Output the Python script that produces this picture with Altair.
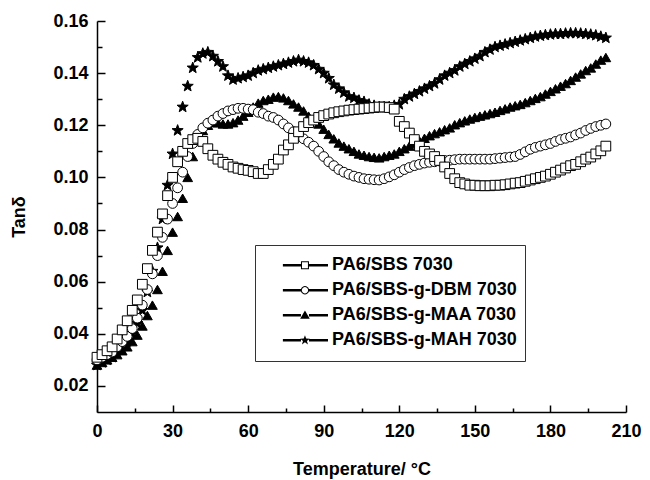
import math
import altair as alt
import pandas as pd

TEMP = list(range(0, 203, 2))  # sampling temperatures, °C

SERIES = ["PA6/SBS 7030", "PA6/SBS-g-DBM 7030", "PA6/SBS-g-MAA 7030", "PA6/SBS-g-MAH 7030"]

SBS = [0.031, 0.032, 0.0335, 0.035, 0.038, 0.0415, 0.045, 0.049, 0.053, 0.059,
       0.065, 0.072, 0.079, 0.086, 0.093, 0.100, 0.106, 0.110, 0.113, 0.1145,
       0.115, 0.1138, 0.111, 0.1085, 0.107, 0.1058, 0.105, 0.104, 0.1035, 0.103,
       0.1027, 0.1022, 0.1015, 0.1015, 0.103, 0.105, 0.107, 0.1105, 0.1125, 0.115,
       0.1175, 0.1195, 0.121, 0.122, 0.123, 0.1237, 0.1243, 0.1248, 0.1252, 0.1255,
       0.1258, 0.126, 0.1262, 0.1264, 0.1266, 0.1268, 0.127, 0.127, 0.1268, 0.1262,
       0.1215, 0.1195, 0.117, 0.1145, 0.112, 0.110, 0.109, 0.108, 0.1065, 0.104,
       0.1015, 0.0995, 0.098, 0.0975, 0.097, 0.097, 0.0968, 0.0968, 0.0968, 0.097,
       0.097, 0.0972, 0.0975, 0.0978, 0.098, 0.0985, 0.099, 0.0995, 0.100, 0.1005,
       0.1012, 0.102, 0.1028, 0.1036, 0.1045, 0.105, 0.106, 0.107, 0.1078, 0.109,
       0.1102, 0.112]

DBM = [0.030, 0.031, 0.032, 0.033, 0.035, 0.037, 0.039, 0.042, 0.046, 0.051,
       0.057, 0.063, 0.070, 0.077, 0.084, 0.090, 0.096, 0.102, 0.108, 0.113,
       0.1165, 0.119, 0.1208, 0.122, 0.1235, 0.1245, 0.1255, 0.126, 0.1265, 0.1265,
       0.1262, 0.126, 0.125, 0.1245, 0.1235, 0.123, 0.122, 0.1205, 0.119, 0.1175,
       0.116, 0.1148, 0.1135, 0.112, 0.110, 0.108, 0.106, 0.1045, 0.103, 0.102,
       0.1012, 0.1005, 0.100, 0.0995, 0.0993, 0.0991, 0.099, 0.0995, 0.1002, 0.101,
       0.102, 0.103, 0.1038, 0.1045, 0.105, 0.1055, 0.1058, 0.106, 0.1063, 0.1065,
       0.1066, 0.1068, 0.107, 0.107, 0.107, 0.107, 0.107, 0.107, 0.107, 0.1072,
       0.1074, 0.1076, 0.1078, 0.108, 0.1088, 0.1098, 0.1108, 0.1115, 0.112, 0.1125,
       0.113, 0.1138, 0.1145, 0.115, 0.1155, 0.1163, 0.117, 0.118, 0.1188, 0.1195,
       0.120, 0.1205]

MAA = [0.028, 0.029, 0.030, 0.031, 0.032, 0.0335, 0.035, 0.037, 0.0395, 0.043,
       0.047, 0.051, 0.057, 0.064, 0.072, 0.079, 0.085, 0.092, 0.100, 0.108,
       0.114, 0.118, 0.120, 0.121, 0.121, 0.1205, 0.1205, 0.121, 0.122, 0.1235,
       0.125, 0.127, 0.1285, 0.1295, 0.130, 0.1308, 0.131, 0.1305, 0.1295, 0.1282,
       0.127, 0.1255, 0.1235, 0.122, 0.1205, 0.1185, 0.1165, 0.1148, 0.1132, 0.112,
       0.111, 0.110, 0.109, 0.1085, 0.108, 0.1077, 0.1075, 0.108, 0.1085, 0.109,
       0.110, 0.111, 0.112, 0.113, 0.114, 0.115, 0.116, 0.1168, 0.1175, 0.1183,
       0.119, 0.1202, 0.121, 0.1217, 0.1224, 0.123, 0.1235, 0.124, 0.1245, 0.125,
       0.1257, 0.1263, 0.127, 0.1275, 0.128, 0.1287, 0.1295, 0.1303, 0.131, 0.132,
       0.133, 0.134, 0.135, 0.136, 0.1372, 0.1385, 0.1397, 0.141, 0.142, 0.1435,
       0.145, 0.146]

MAH = [0.028, 0.029, 0.030, 0.031, 0.0325, 0.034, 0.037, 0.040, 0.044, 0.049,
       0.056, 0.064, 0.073, 0.084, 0.097, 0.109, 0.118, 0.127, 0.135, 0.142,
       0.146, 0.1475, 0.148, 0.1465, 0.1445, 0.1425, 0.139, 0.1375, 0.138, 0.1385,
       0.139, 0.140, 0.141, 0.1415, 0.142, 0.1425, 0.143, 0.1435, 0.144, 0.1445,
       0.145, 0.1445, 0.144, 0.143, 0.1415, 0.140, 0.138, 0.1355, 0.134, 0.1325,
       0.131, 0.1305, 0.1295, 0.129, 0.128, 0.1275, 0.127, 0.127, 0.127, 0.1275,
       0.128, 0.130, 0.131, 0.132, 0.133, 0.134, 0.135, 0.136, 0.1375, 0.139,
       0.140, 0.141, 0.1425, 0.1435, 0.1445, 0.1455, 0.1465, 0.148, 0.149, 0.150,
       0.1505, 0.151, 0.1515, 0.152, 0.1525, 0.153, 0.1535, 0.154, 0.1543, 0.1546,
       0.1548, 0.155, 0.155, 0.1552, 0.1553, 0.1553, 0.1552, 0.155, 0.1548, 0.1545,
       0.154, 0.1535]

X_TICKS = [0, 30, 60, 90, 120, 150, 180, 210]
X_MINOR = [15, 45, 75, 105, 135, 165, 195]
Y_TICKS = [0.02, 0.04, 0.06, 0.08, 0.10, 0.12, 0.14, 0.16]
Y_MINOR = [0.03, 0.05, 0.07, 0.09, 0.11, 0.13, 0.15]

rows = []
for name, vals in [(SERIES[3], MAH), (SERIES[2], MAA), (SERIES[1], DBM), (SERIES[0], SBS)]:
    assert len(vals) == len(TEMP), name
    for t, v in zip(TEMP, vals):
        rows.append({"T": t, "v": v, "s": name})
df = pd.DataFrame(rows)

W, H = 529, 391
FONT = "Liberation Sans"

xscale = alt.Scale(domain=[0, 210], nice=False, zero=False)
yscale = alt.Scale(domain=[0.01, 0.16], nice=False, zero=False)
FILLS = ["white", "white", "black", "black"]
LEG_FILLS = ["black", "black", "black", "black"]


def f(v):
    return f"{v:.4f}"


def star_path(cx, R, r):
    pts = []
    for k in range(10):
        ang = -math.pi / 2 + k * math.pi / 5
        rr = R if k % 2 == 0 else r
        pts.append(f"{f(cx + rr*math.cos(ang))},{f(rr*math.sin(ang))}")
    return "M" + "L".join(pts) + "Z"


def ring(cx, r, n, reverse):
    pts = []
    for k in range(n):
        a = 2 * math.pi * k / n
        if reverse:
            a = -a
        pts.append(f"{f(cx + r*math.cos(a))},{f(r*math.sin(a))}")
    return "M" + "L".join(pts) + "Z"


STAR = star_path(0.0, 1.2, 0.5)

# legend symbols, drawn as filled outlines: thick line, marker in the middle (unit coords)
cx = 0.28
t = 0.04
line = f"M-0.41,{-t}H0.155V{t}H-0.41ZM0.405,{-t}H1V{t}H0.405Z"
o, i = 0.125, 0.093
sq = (f"M{f(cx-o)},{-o}H{f(cx+o)}V{o}H{f(cx-o)}Z"
      f"M{f(cx-i)},{-i}V{i}H{f(cx+i)}V{-i}Z")
circ = ring(cx, 0.13, 20, False) + ring(cx, 0.098, 20, True)
tri = f"M{f(cx)},-0.15L{f(cx+0.15)},0.11L{f(cx-0.15)},0.11Z"
LEG_PATHS = [line + sq, line + circ, line + tri, line + star_path(cx, 0.16, 0.065)]

base = alt.Chart(df)

main = base.mark_point(filled=True, opacity=1, stroke="black", strokeWidth=1, size=95).encode(
    x=alt.X("T:Q", scale=xscale,
            axis=alt.Axis(orient="bottom", values=X_TICKS, ticks=False, labelPadding=10,
                          title="Temperature/ °C", titlePadding=20, labelFlush=False)),
    y=alt.Y("v:Q", scale=yscale,
            axis=alt.Axis(orient="left", values=Y_TICKS, format=".2f", ticks=False,
                          labelPadding=9, title="Tanδ", titlePadding=24)),
    shape=alt.Shape("s:N", scale=alt.Scale(domain=SERIES,
                    range=["square", "circle", "triangle-up", STAR]), legend=None),
    fill=alt.Fill("s:N", scale=alt.Scale(domain=SERIES, range=FILLS), legend=None),
)

major = base.mark_point(opacity=0).encode(
    x=alt.X("T:Q", scale=xscale,
            axis=alt.Axis(orient="top", offset=-H, values=X_TICKS, labels=False, domain=False,
                          tickSize=7, title=None)),
    y=alt.Y("v:Q", scale=yscale,
            axis=alt.Axis(orient="right", offset=-W, values=Y_TICKS, labels=False, domain=False,
                          tickSize=8, title=None)),
)

minor = base.mark_point(opacity=0).encode(
    x=alt.X("T:Q", scale=xscale,
            axis=alt.Axis(orient="top", offset=-H, values=X_MINOR, labels=False, domain=False,
                          tickSize=4, title=None)),
    y=alt.Y("v:Q", scale=yscale,
            axis=alt.Axis(orient="right", offset=-W, values=Y_MINOR, labels=False, domain=False,
                          tickSize=5, title=None)),
)

leg = alt.Legend(orient="none", legendX=158, legendY=224)
legend_layer = base.mark_point(filled=True, opacity=1).encode(
    shape=alt.Shape("s:N", scale=alt.Scale(domain=SERIES, range=LEG_PATHS), legend=leg, title=None),
    fill=alt.Fill("s:N", scale=alt.Scale(domain=SERIES, range=LEG_FILLS), legend=leg, title=None),
).transform_filter(alt.datum.T < -1)

chart = alt.layer(main, major, minor, legend_layer).resolve_scale(
    x="independent", y="independent", shape="independent", fill="independent"
).properties(
    width=W, height=H,
    autosize=alt.AutoSizeParams(type="none"),
    padding={"left": 89, "top": 13, "right": 16, "bottom": 70},
).configure_view(stroke="transparent").configure_axis(
    labelFont=FONT, labelFontSize=18, labelFontWeight="bold", labelColor="black",
    titleFont=FONT, titleFontSize=18, titleFontWeight="bold", titleColor="black",
    domainColor="black", domainWidth=1.5, tickColor="black", tickWidth=1.5, grid=False,
).configure_legend(
    padding=8, strokeColor="#333333", strokeWidth=1, fillColor="white",
    symbolSize=4096, clipHeight=24.5, rowPadding=0, labelOffset=3,
    labelFont=FONT, labelFontSize=18, labelFontWeight="bold", labelColor="black",
    labelLimit=400,
)

chart.save("out.html", embed_options={"renderer": "svg", "actions": False})
